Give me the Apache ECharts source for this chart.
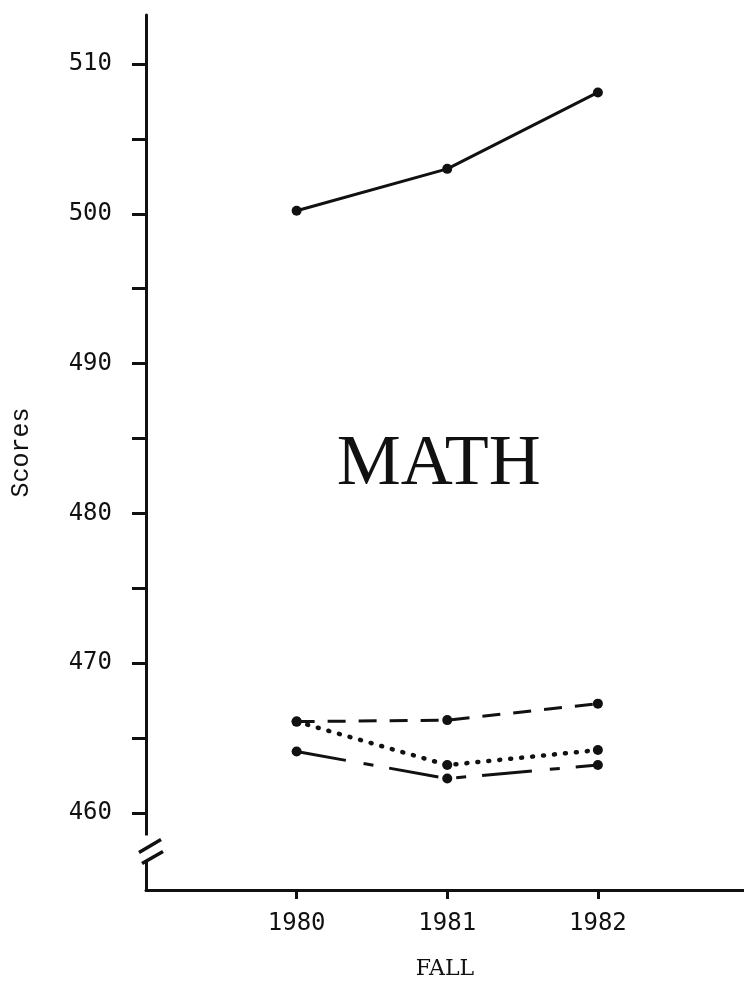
<!DOCTYPE html>
<html>
<head>
<meta charset="utf-8">
<script src="https://cdn.jsdelivr.net/npm/echarts@6/dist/echarts.min.js"></script>
<style>html,body{margin:0;padding:0;background:#fff}#c{width:744px;height:986px}</style>
</head>
<body>
<div id="c"></div>
<script>
const years = [1980, 1981, 1982];
const yTickValues = [460, 465, 470, 475, 480, 485, 490, 495, 500, 505, 510];
const yLabelValues = [460, 470, 480, 490, 500, 510];
const topSolid = [500.2, 503.0, 508.1];
const dashed = [466.1, 466.2, 467.3];
const dotted = [466.1, 463.2, 464.2];
const dashDot = [464.1, 462.3, 463.2];

const ink = '#111';
const pairs = arr => years.map((y, i) => [y, arr[i]]);
function mk(name, arr, dash, width, cap) {
  return {
    name, type: 'line', data: pairs(arr),
    symbol: 'circle', symbolSize: 10,
    itemStyle: { color: ink },
    lineStyle: { color: ink, width: width, type: dash, cap: cap || 'butt' },
    z: 3
  };
}

const chart = echarts.init(document.getElementById('c'));
chart.setOption({
  animation: false,
  backgroundColor: '#fff',
  grid: { left: 146, right: 0, top: 15, bottom: 96 },
  xAxis: {
    type: 'value', min: 1979, max: 1982.97,
    name: 'FALL', nameLocation: 'middle', nameGap: 68,
    nameTextStyle: { fontFamily: 'DejaVu Serif', fontSize: 22, color: ink },
    axisLine: { show: true, lineStyle: { color: ink, width: 3 } },
    axisTick: { show: true, length: 9, lineStyle: { color: ink, width: 3 }, customValues: years },
    axisLabel: { customValues: years, formatter: v => String(v), margin: 22,
      fontFamily: 'DejaVu Sans Mono', fontSize: 24, color: ink },
    splitLine: { show: false }
  },
  yAxis: {
    type: 'value', min: 454.86, max: 513.27,
    name: 'Scores', nameLocation: 'middle', nameGap: 112, nameRotate: 90,
    nameTextStyle: { fontFamily: 'Liberation Mono', fontSize: 25, color: ink },
    axisLine: { show: true, lineStyle: { color: ink, width: 3 } },
    axisTick: { show: true, length: 14, lineStyle: { color: ink, width: 3 }, customValues: yTickValues },
    axisLabel: { customValues: yLabelValues, margin: 34, fontFamily: 'DejaVu Sans Mono', fontSize: 24, color: ink },
    splitLine: { show: false }
  },
  series: [
    mk('top', topSolid, 'solid', 3),
    mk('dashed', dashed, [18, 13], 3),
    mk('dotted', dotted, [1, 10], 4.5, 'round'),
    mk('dashdot', dashDot, [50, 18, 10, 16], 3)
  ]
});

// decorations: title text and axis break
const ax = chart.convertToPixel({ gridIndex: 0 }, [1979, 457.7]);
const mathPos = chart.convertToPixel({ gridIndex: 0 }, [1980.97, 482.96]);
const bx = ax[0], by = ax[1];
chart.setOption({
  graphic: [
    { type: 'text', left: mathPos[0] - 106, top: mathPos[1] - 40,
      style: { text: 'MATH', fontFamily: 'Liberation Serif', fontSize: 72, fill: ink }, z: 10 },
    { type: 'rect', shape: { x: bx - 6, y: by - 12, width: 12, height: 26 }, style: { fill: '#fff' }, z: 10 },
    { type: 'line', shape: { x1: bx - 7, y1: by + 5, x2: bx + 15, y2: by - 8 }, style: { stroke: ink, lineWidth: 3.5 }, z: 11 },
    { type: 'line', shape: { x1: bx - 4, y1: by + 16, x2: bx + 17, y2: by + 4 }, style: { stroke: ink, lineWidth: 3.5 }, z: 11 }
  ]
});
</script>
</body>
</html>
